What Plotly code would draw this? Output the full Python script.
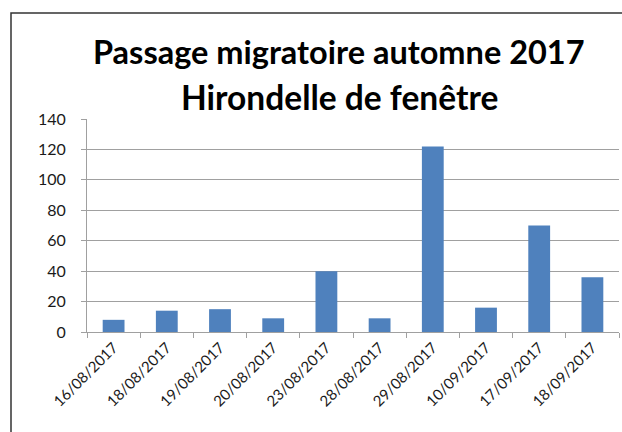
import plotly.graph_objects as go

dates = ["16/08/2017", "18/08/2017", "19/08/2017", "20/08/2017", "23/08/2017",
         "28/08/2017", "29/08/2017", "10/09/2017", "17/09/2017", "18/09/2017"]
counts = [8, 14, 15, 9, 40, 9, 122, 16, 70, 36]
y_ticks = [0, 20, 40, 60, 80, 100, 120, 140]
title_lines = ["Passage migratoire automne 2017", "Hirondelle de fenêtre"]

W, H = 622, 432
# target plot area in screen pixels
PX0, PX1, PY0, PY1 = 87, 619, 119, 332
L = PX0
T = PY0
R = W - PX1
B = H - PY1
pw = PX1 - PX0
ph = PY1 - PY0


def px_x(sx):
    return (sx - PX0) / pw


def px_y(sy):
    return (PY1 - sy) / ph


fig = go.Figure(go.Bar(x=dates, y=counts, marker=dict(color="#4F81BD", line=dict(width=0))))

title_y = [52, 97]
title_sizes = [32.5, 33.5]
annotations = [
    dict(text="<b>" + t + "</b>", xref="paper", yref="paper",
         x=px_x(339), y=px_y(yy), xanchor="center", yanchor="middle",
         showarrow=False, font=dict(size=sz, family="Lato, sans-serif", color="#000000"))
    for t, yy, sz in zip(title_lines, title_y, title_sizes)
]

fig.update_layout(
    width=W, height=H,
    margin=dict(l=L, r=R, t=T, b=B, autoexpand=False),
    paper_bgcolor="white", plot_bgcolor="white",
    bargap=0.59,
    showlegend=False,
    hovermode=False,
    font=dict(family="Lato, Liberation Sans, sans-serif", color="#1a1a1a"),
    annotations=annotations,
    shapes=[dict(type="rect", xref="paper", yref="paper",
                 x0=px_x(11), x1=px_x(660),
                 y0=px_y(460), y1=px_y(13),
                 line=dict(color="#333333", width=1.5), fillcolor="rgba(0,0,0,0)",
                 layer="below")],
)

fig.update_xaxes(
    type="category", automargin=False,
    tickangle=-45,
    showline=True, linecolor="#a0a0a0", linewidth=1,
    ticks="outside", ticklen=5, tickcolor="#a0a0a0", tickson="boundaries",
    showgrid=False,
    tickfont=dict(size=15, color="#1a1a1a"),
)
fig.update_yaxes(
    range=[0, 140], tickvals=y_ticks, automargin=False,
    showline=True, linecolor="#a0a0a0", linewidth=1,
    ticks="outside", ticklen=5, tickcolor="#a0a0a0",
    showgrid=True, gridcolor="#a0a0a0", gridwidth=1,
    zeroline=False,
    tickfont=dict(size=16, color="#1a1a1a"),
    ticklabelstandoff=12,
)

fig.write_html("out.html",
               config={"displayModeBar": False},
               post_script="document.body.style.margin='0';document.body.style.overflow='hidden';")
